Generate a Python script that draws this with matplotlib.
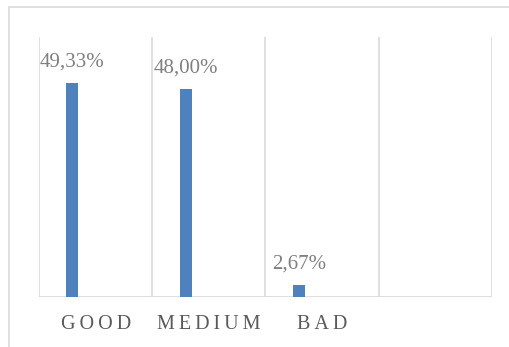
import matplotlib.pyplot as plt
from matplotlib.patches import Rectangle

categories = ["GOOD", "MEDIUM", "BAD", ""]
values = [49.33, 48.00, 2.67, None]
value_labels = ["49,33%", "48,00%", "2,67%"]

plt.rcParams["font.family"] = ["Liberation Serif", "DejaVu Serif"]

fig = plt.figure(figsize=(5.10, 3.47), dpi=100)
ax = fig.add_axes([39 / 510, 1 - 297 / 347, 453 / 510, 260 / 347])

# outer chart frame (runs off the right and bottom edges)
fig.patches.append(Rectangle((9 / 510, -0.1), 1.2, 1 - 7 / 347 + 0.1,
                             transform=fig.transFigure, fill=False,
                             edgecolor="#d9d9d9", linewidth=1.2))

grid = "#d9d9d9"
bar_color = "#4f81bd"
offset = -0.205
width = 0.106

for i, v in enumerate(values):
    if v is None:
        continue
    x = i + 0.5 + offset
    ax.bar(x, v, width=width, color=bar_color)
    ax.text(x, v + 3.8, value_labels[i], ha="center", va="baseline",
            fontsize=15, color="#7f7f7f")

ax.set_xlim(0, len(categories))
ax.set_ylim(0, 60)

for x in range(len(categories) + 1):
    ax.axvline(x, color=grid, linewidth=1.2, zorder=0)
ax.axhline(0, color=grid, linewidth=1.2, zorder=0)

for s in ax.spines.values():
    s.set_visible(False)
ax.set_yticks([])
ax.set_xticks([i + 0.5 for i in range(len(categories))])
# letter-spaced category names
ax.set_xticklabels(["\u2009".join(c) for c in categories], fontsize=14.5,
                   color="#595959")
ax.tick_params(axis="x", length=0, pad=13)
ax.patch.set_alpha(0)

fig.savefig("out.png", dpi=100)
